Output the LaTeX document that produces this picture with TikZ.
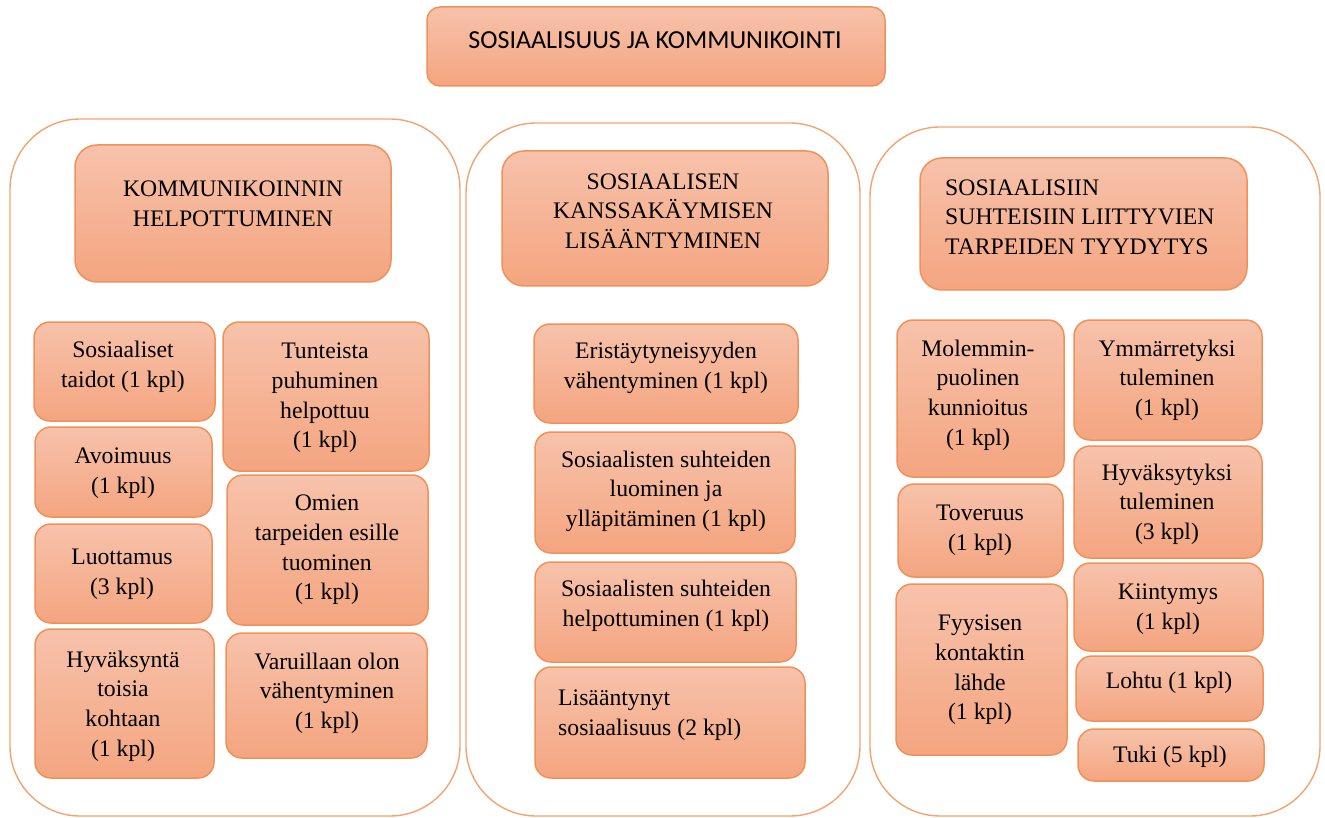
\documentclass[tikz,border=0pt]{standalone}
\usepackage{fontspec}
\setmainfont{Liberation Serif}
\newfontfamily\calibri{Carlito}

\definecolor{reuna}{RGB}{240,146,88}
\definecolor{kehysvari}{RGB}{243,163,112}
\definecolor{ylavari}{RGB}{247,194,171}
\definecolor{alavari}{RGB}{244,165,128}

\tikzset{
  kehys/.style={draw=kehysvari, line width=1.4pt, rounded corners=70pt},
  laatikko/.style={draw=reuna, line width=1.5pt, rounded corners=16pt,
    top color=ylavari, bottom color=alavari},
  otsikko/.style={laatikko, rounded corners=13pt},
  ylaotsikko/.style={laatikko, rounded corners=22pt},
  teksti/.style={align=center, inner sep=0pt, font=\fontsize{23.7}{29.6}\selectfont},
}

\begin{document}
\begin{tikzpicture}[x=1pt,y=-1pt]
\useasboundingbox (0,0) rectangle (1325,818);

% otsikko
\draw[otsikko] (427,7) rectangle (885,86);
\node[inner sep=0pt, font=\calibri\fontsize{26}{30}\selectfont] (paa) at (655,40) {SOSIAALISUUS JA KOMMUNIKOINTI};

% kolme kehystä
\draw[kehys] (10,119) rectangle (460,816);
\draw[kehys] (466,123) rectangle (860,816);
\draw[kehys] (870,127) rectangle (1320,816);

% 1. sarake
\draw[ylaotsikko] (75,145) rectangle (391,282);
\node[teksti] (kom) at (233,204) {KOMMUNIKOINNIN\\HELPOTTUMINEN};

\draw[laatikko] (34,322) rectangle (215,421);
\node[teksti] (taidot) at (123,367) {Sosiaaliset\\taidot (1 kpl)};
\draw[laatikko] (35,427) rectangle (212,517);
\node[teksti] (avoimuus) at (123,473) {Avoimuus\\(1 kpl)};
\draw[laatikko] (35,524) rectangle (212,623);
\node[teksti] (luottamus) at (122,574) {Luottamus\\(3 kpl)};
\draw[laatikko] (35,629) rectangle (214,778);
\node[teksti] (hyvaksynta) at (123,706) {Hyväksyntä\\toisia\\kohtaan\\(1 kpl)};

\draw[laatikko] (223,322) rectangle (429,471);
\node[teksti] (tunteista) at (325,398) {Tunteista\\puhuminen\\helpottuu\\(1 kpl)};
\draw[laatikko] (227,475) rectangle (428,625);
\node[teksti] (omien) at (327,550) {Omien\\tarpeiden esille\\tuominen\\(1 kpl)};
\draw[laatikko] (226,633) rectangle (427,758);
\node[teksti] (varuillaan) at (327,693) {Varuillaan olon\\vähentyminen\\(1 kpl)};

% 2. sarake
\draw[ylaotsikko] (502,151) rectangle (828,286);
\node[teksti] (kans) at (663,211) {SOSIAALISEN\\KANSSAKÄYMISEN\\LISÄÄNTYMINEN};

\draw[laatikko] (534,324) rectangle (798,423);
\node[teksti] (erist) at (666,368) {Eristäytyneisyyden\\vähentyminen (1 kpl)};
\draw[laatikko] (535,432) rectangle (795,553);
\node[teksti] (luominen) at (666,491) {Sosiaalisten suhteiden\\luominen ja\\ylläpitäminen (1 kpl)};
\draw[laatikko] (535,562) rectangle (796,662);
\node[teksti] (helpot) at (666,606) {Sosiaalisten suhteiden\\helpottuminen (1 kpl)};
\draw[laatikko] (535,667) rectangle (805,778);
\node[teksti, align=left, anchor=west] (lisa) at (558,715) {Lisääntynyt\\sosiaalisuus (2 kpl)};

% 3. sarake
\draw[ylaotsikko] (920,158) rectangle (1247,290);
\node[teksti, align=left, anchor=west] (tarpeet) at (945,217) {SOSIAALISIIN\\SUHTEISIIN LIITTYVIEN\\TARPEIDEN TYYDYTYS};

\draw[laatikko] (897,320) rectangle (1064,477);
\node[teksti] (molemmin) at (978,395) {Molemmin-\\puolinen\\kunnioitus\\(1 kpl)};
\draw[laatikko] (898,484) rectangle (1063,577);
\node[teksti] (toveruus) at (980,530) {Toveruus\\(1 kpl)};
\draw[laatikko] (896,584) rectangle (1067,755);
\node[teksti] (fyysisen) at (980,670) {Fyysisen\\kontaktin\\lähde\\(1 kpl)};

\draw[laatikko] (1074,320) rectangle (1262,440);
\node[teksti] (ymmarr) at (1167,380) {Ymmärretyksi\\tuleminen\\(1 kpl)};
\draw[laatikko] (1074,446) rectangle (1262,558);
\node[teksti] (hyvaks) at (1167,504) {Hyväksytyksi\\tuleminen\\(3 kpl)};
\draw[laatikko] (1074,563) rectangle (1263,651);
\node[teksti] (kiintymys) at (1168,609) {Kiintymys\\(1 kpl)};
\draw[laatikko] (1076,656) rectangle (1263,721);
\node[teksti] (lohtu) at (1169,683) {Lohtu (1 kpl)};
\draw[laatikko] (1078,729) rectangle (1264,781);
\node[teksti] (tuki) at (1170,757) {Tuki (5 kpl)};

\end{tikzpicture}
\end{document}
